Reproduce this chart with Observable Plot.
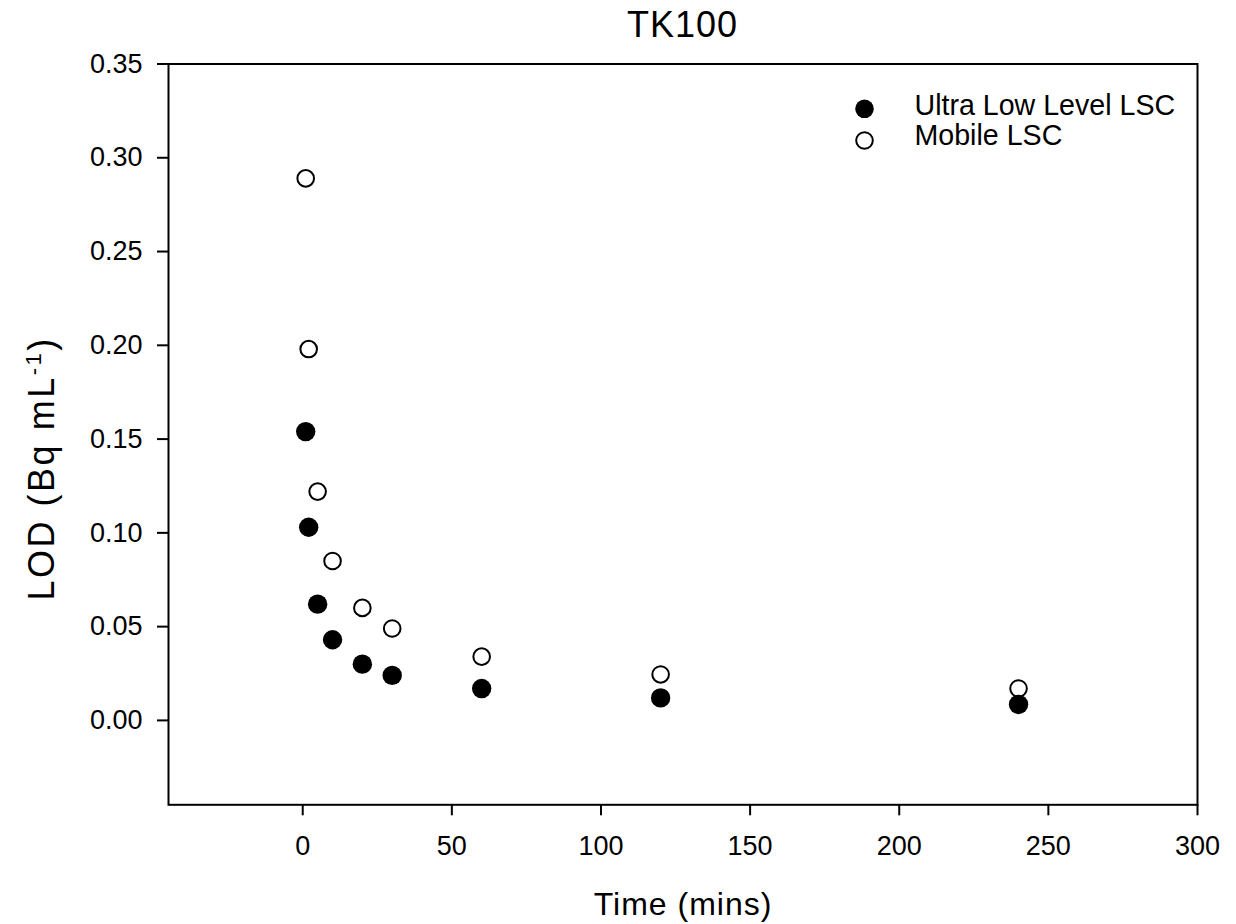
<!DOCTYPE html>
<html><head><meta charset="utf-8">
<script src="https://cdn.jsdelivr.net/npm/d3@7"></script>
<script src="https://cdn.jsdelivr.net/npm/@observablehq/plot@0.6"></script>
<style>
body{margin:0;background:#fff;font-family:"Liberation Sans",Arial,sans-serif;}
#title{height:52px;box-sizing:border-box;padding:7px 39px 0 168px;text-align:center;font-size:36px;line-height:1;color:#000;letter-spacing:1px;}
</style></head><body>
<div id="title"></div>
<div id="chart"></div>
<script>
const titleText = "TK100";
const times = [1, 2, 5, 10, 20, 30, 60, 120, 240];
const ultraLow = [0.154, 0.103, 0.062, 0.043, 0.030, 0.024, 0.017, 0.012, 0.0085];
const mobile = [0.289, 0.198, 0.122, 0.085, 0.060, 0.049, 0.034, 0.0245, 0.017];
const seriesNames = ["Ultra Low Level LSC", "Mobile LSC"];
const xTicks = [0, 50, 100, 150, 200, 250, 300];
const yTicks = [0, 0.05, 0.10, 0.15, 0.20, 0.25, 0.30, 0.35];
const xLabel = "Time (mins)";
const yLabelMain = "LOD (Bq mL";
const yLabelSup = "-1";
const yLabelEnd = ")";

document.getElementById("title").textContent = titleText;

const ultraRows = times.map((t, i) => ({time: t, lod: ultraLow[i], series: seriesNames[0]}));
const mobileRows = times.map((t, i) => ({time: t, lod: mobile[i], series: seriesNames[1]}));
const yLabelFull = yLabelMain + yLabelSup + yLabelEnd;
const font = "'Liberation Sans', Arial, sans-serif";

const chart = Plot.plot({
  width: 1236,
  height: 872,
  marginLeft: 168,
  marginRight: 39,
  marginTop: 11.5,
  marginBottom: 119.7,
  style: {fontFamily: font, fontSize: "27px", color: "#000", background: "#fff", overflow: "visible"},
  x: {domain: [-45, 300]},
  y: {domain: [-0.045, 0.35]},
  marks: [
    Plot.axisX({ticks: xTicks, tickSize: 11, tickPadding: 20, strokeWidth: 2, label: null, fontSize: 27, tickFormat: d => String(d)}),
    Plot.axisY({ticks: yTicks, tickSize: 11, tickPadding: 15, strokeWidth: 2, label: null, fontSize: 27, tickFormat: d => d.toFixed(2)}),
    Plot.frame({stroke: "#000", strokeWidth: 2}),
    Plot.dot(mobileRows, {x: "time", y: "lod", r: 8.3, fill: "#fff", stroke: "#000", strokeWidth: 2}),
    Plot.dot(ultraRows, {x: "time", y: "lod", r: 9.7, fill: "#000", stroke: "none"}),
    // legend
    Plot.dot([seriesNames[0]], {frameAnchor: "top-right", dx: -333, dy: 44.8, r: 9.3, fill: "#000", stroke: "none"}),
    Plot.dot([seriesNames[1]], {frameAnchor: "top-right", dx: -333, dy: 76.5, r: 8.3, fill: "#fff", stroke: "#000", strokeWidth: 2}),
    Plot.text([seriesNames[0]], {frameAnchor: "top-right", text: d => d, textAnchor: "start", lineAnchor: "middle", dx: -283, dy: 42.3, fontSize: 28.6}),
    Plot.text([seriesNames[1]], {frameAnchor: "top-right", text: d => d, textAnchor: "start", lineAnchor: "middle", dx: -283, dy: 72.3, fontSize: 28.6}),
    // axis titles
    Plot.text([xLabel], {frameAnchor: "bottom", text: d => d, lineAnchor: "middle", dy: 100, fontSize: 32}),
    Plot.text([yLabelFull], {frameAnchor: "left", text: d => d, rotate: -90, textAnchor: "start", lineAnchor: "middle", dx: -126, dy: 166, fontSize: 36})
  ]
});
document.getElementById("chart").appendChild(chart);

// superscript in y label
chart.querySelectorAll("text").forEach(t => {
  if (t.textContent === yLabelFull) {
    t.textContent = "";
    t.setAttribute("letter-spacing", "2.5");
    t.setAttribute("text-anchor", "start");
    const ns = "http://www.w3.org/2000/svg";
    const a = document.createElementNS(ns, "tspan"); a.textContent = yLabelMain;
    const b = document.createElementNS(ns, "tspan"); b.textContent = yLabelSup;
    b.setAttribute("font-size", "22"); b.setAttribute("dy", "-13");
    const c = document.createElementNS(ns, "tspan"); c.textContent = yLabelEnd;
    c.setAttribute("dy", "13");
    t.append(a, b, c);
  }
  if (t.textContent === xLabel) t.setAttribute("letter-spacing", "1");
});
</script>
</body></html>
